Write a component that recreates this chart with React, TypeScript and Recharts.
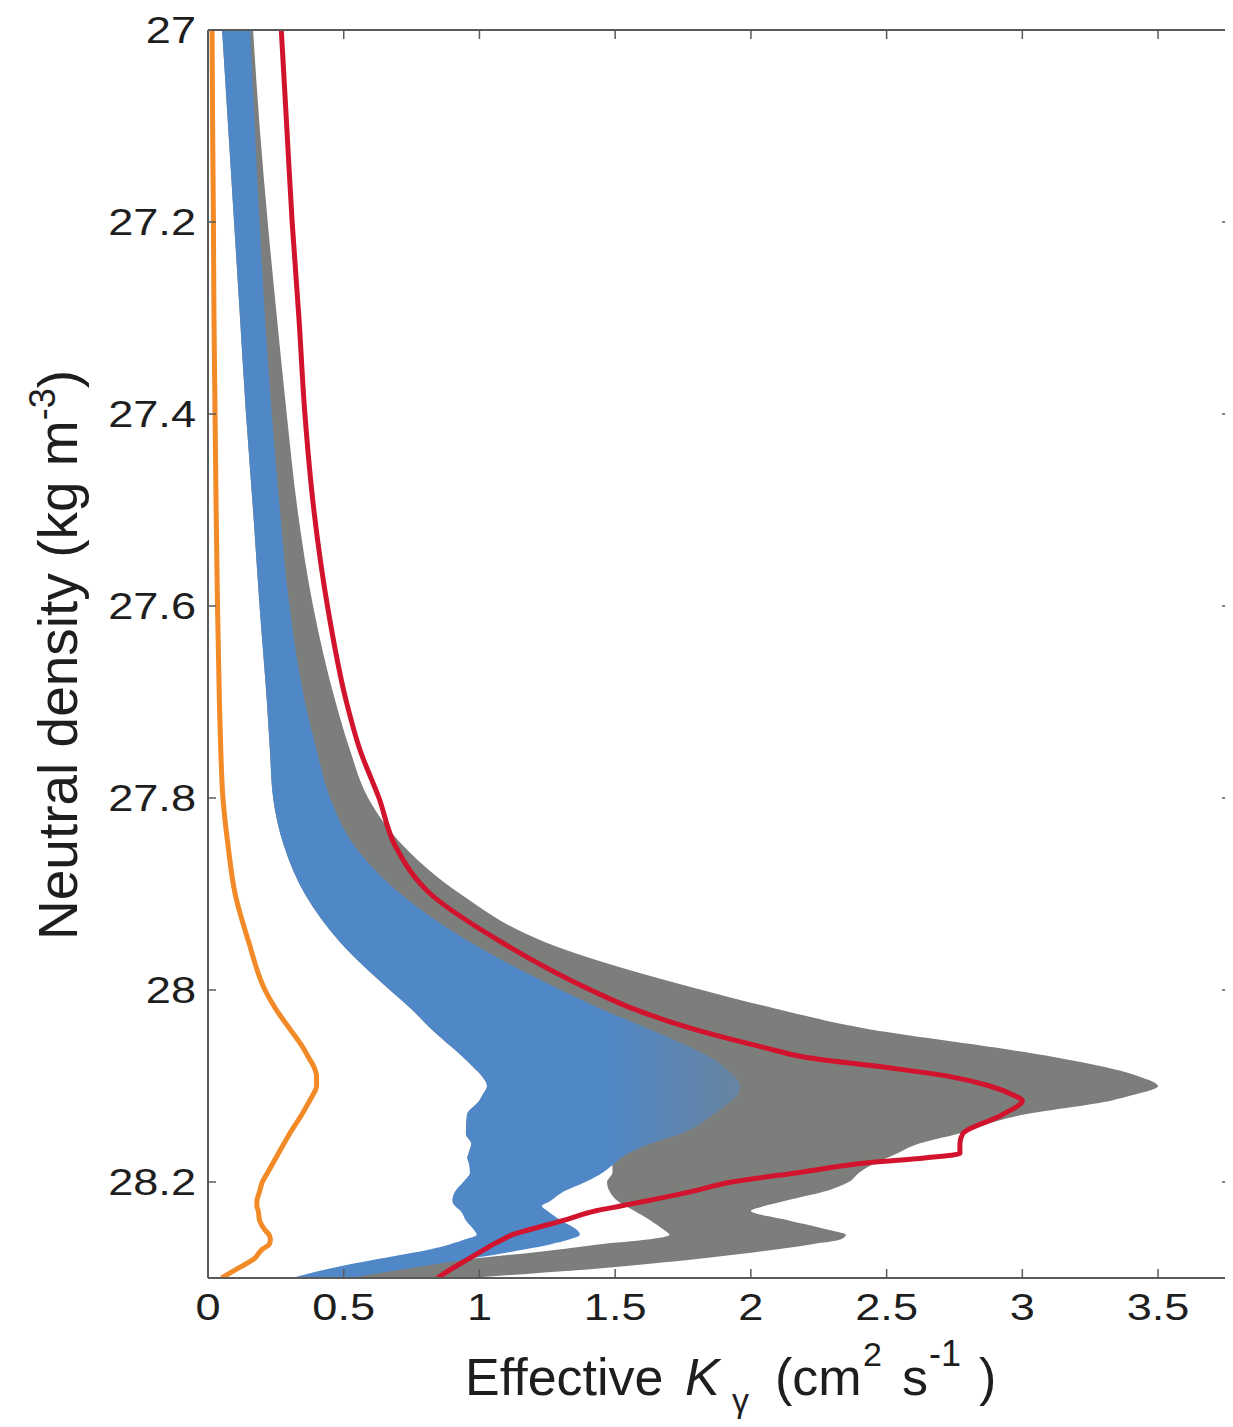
import React from 'react';
import { ComposedChart, Area, Line, XAxis, YAxis } from 'recharts';

// Neutral density levels (kg m^-3)
const density = [27.0, 27.1, 27.2, 27.3, 27.4, 27.5, 27.6, 27.7, 27.75, 27.8, 27.85, 27.9, 27.95, 28.0, 28.02, 28.04, 28.06, 28.07, 28.08, 28.09, 28.1, 28.11, 28.115, 28.13, 28.15, 28.16, 28.17, 28.175, 28.18, 28.19, 28.2, 28.21, 28.22, 28.225, 28.23, 28.24, 28.25, 28.255, 28.26, 28.265, 28.27, 28.28, 28.29, 28.3];

// Orange profile
const orangeK = [0.015, 0.017, 0.02, 0.022, 0.026, 0.03, 0.035, 0.042, 0.047, 0.055, 0.074, 0.1, 0.15, 0.21, 0.25, 0.3, 0.35, 0.37, 0.39, 0.4, 0.4, 0.385, 0.375, 0.345, 0.3, 0.28, 0.26, 0.25, 0.24, 0.22, 0.2, 0.19, 0.18, 0.18, 0.185, 0.19, 0.21, 0.225, 0.23, 0.225, 0.2, 0.17, 0.11, 0.05];

// Red profile
const redK = [0.27, 0.29, 0.31, 0.335, 0.357, 0.39, 0.44, 0.51, 0.56, 0.63, 0.69, 0.82, 1.08, 1.41, 1.57, 1.78, 2.05, 2.2, 2.48, 2.73, 2.88, 2.97, 3.0, 2.925, 2.78, 2.77, 2.77, 2.64, 2.43, 2.18, 1.93, 1.78, 1.61, 1.52, 1.43, 1.31, 1.18, 1.12, 1.085, 1.05, 1.02, 0.96, 0.9, 0.845];

// Blue band (lower / upper)
const blueLo = [0.052, 0.074, 0.096, 0.118, 0.14, 0.166, 0.19, 0.217, 0.228, 0.24, 0.28, 0.357, 0.486, 0.67, 0.75, 0.82, 0.9, 0.94, 0.976, 1.01, 1.028, 1.01, 1.0, 0.954, 0.95, 0.97, 0.96, 0.955, 0.96, 0.965, 0.94, 0.91, 0.9, 0.91, 0.93, 0.95, 0.98, 0.99, 0.945, 0.89, 0.82, 0.63, 0.45, 0.31];
const blueHi = [0.155, 0.172, 0.19, 0.21, 0.235, 0.265, 0.3, 0.357, 0.4, 0.45, 0.54, 0.71, 0.965, 1.3, 1.45, 1.62, 1.78, 1.85, 1.9, 1.94, 1.96, 1.95, 1.93, 1.86, 1.74, 1.63, 1.55, 1.52, 1.5, 1.455, 1.39, 1.31, 1.26, 1.23, 1.25, 1.3, 1.36, 1.37, 1.33, 1.26, 1.17, 0.965, 0.74, 0.52];

// Gray band (lower / upper)
const grayLo = [0.052, 0.074, 0.096, 0.118, 0.14, 0.166, 0.19, 0.217, 0.228, 0.24, 0.28, 0.357, 0.486, 0.67, 0.75, 0.82, 0.9, 0.94, 0.976, 1.01, 1.028, 1.01, 1.0, 0.954, 0.95, 0.97, 0.96, 0.955, 1.49, 1.49, 1.47, 1.48, 1.51, 1.54, 1.57, 1.63, 1.68, 1.7, 1.62, 1.44, 1.3, 0.97, 0.6, 0.31];
const grayHi = [0.166, 0.19, 0.22, 0.254, 0.29, 0.33, 0.387, 0.47, 0.523, 0.59, 0.72, 0.93, 1.24, 1.82, 2.1, 2.42, 2.9, 3.12, 3.3, 3.43, 3.5, 3.4, 3.33, 3.0, 2.76, 2.62, 2.54, 2.5, 2.46, 2.4, 2.36, 2.27, 2.12, 2.05, 2.0, 2.14, 2.29, 2.35, 2.33, 2.22, 2.1, 1.81, 1.44, 0.96];

const xTicks = [0, 0.5, 1, 1.5, 2, 2.5, 3, 3.5];
const xTickLabels = ['0', '0.5', '1', '1.5', '2', '2.5', '3', '3.5'];
const yTicks = [27, 27.2, 27.4, 27.6, 27.8, 28, 28.2];
const yTickLabels = ['27', '27.2', '27.4', '27.6', '27.8', '28', '28.2'];

const rows = density.map((d, i) => ({
  d,
  orange: orangeK[i],
  red: redK[i],
  blue: [blueLo[i], blueHi[i]],
  gray: [grayLo[i], grayHi[i]],
}));

const AXIS = '#5a5a5a';
const TEXT = '#1e1e1e';
const FONT = '"Liberation Sans", Arial, Helvetica, sans-serif';
const W = 1225;
const H = 1419;

const labelFor = (ticks: number[], labels: string[], v: number) => {
  const i = ticks.findIndex((t) => Math.abs(t - v) < 1e-6);
  return i >= 0 ? labels[i] : String(v);
};

const BottomTick = (props: any) => {
  const { x, y, payload } = props;
  return (
    <g>
      <line x1={x} y1={y} x2={x} y2={y - 9} stroke={AXIS} strokeWidth={1.5} />
      <text
        transform={`translate(${x},${y + 42}) scale(1.22,1)`}
        textAnchor="middle"
        fontFamily={FONT}
        fontSize={37}
        fill={TEXT}
      >
        {labelFor(xTicks, xTickLabels, payload.value)}
      </text>
    </g>
  );
};

const TopTick = (props: any) => {
  const { x, y } = props;
  return <line x1={x} y1={y} x2={x} y2={y + 9} stroke={AXIS} strokeWidth={1.5} />;
};

const LeftTick = (props: any) => {
  const { x, y, payload } = props;
  return (
    <g>
      <line x1={x} y1={y} x2={x + 8} y2={y} stroke={AXIS} strokeWidth={1.5} />
      <text
        transform={`translate(${x - 12},${y + 13}) scale(1.22,1)`}
        textAnchor="end"
        fontFamily={FONT}
        fontSize={37}
        fill={TEXT}
      >
        {labelFor(yTicks, yTickLabels, payload.value)}
      </text>
    </g>
  );
};

const RightTick = (props: any) => {
  const { x, y } = props;
  return <line x1={x} y1={y} x2={x - 8} y2={y} stroke={AXIS} strokeWidth={1.5} />;
};

export default function App() {
  return (
    <div style={{ position: 'relative', width: W, height: H, background: '#fff' }}>
      <ComposedChart
        width={W}
        height={H}
        data={rows}
        layout="vertical"
        margin={{ top: 21, right: 2, bottom: 89, left: 0 }}
      >
        <defs>
          <linearGradient id="blueFade" x1="0" y1="0" x2="1" y2="0">
            <stop offset="0" stopColor="#4f87c7" stopOpacity={1} />
            <stop offset="0.74" stopColor="#4f87c7" stopOpacity={1} />
            <stop offset="1" stopColor="#5a88bb" stopOpacity={0.6} />
          </linearGradient>
        </defs>
        <XAxis
          type="number"
          xAxisId={0}
          domain={[0, 3.765]}
          ticks={xTicks}
          interval={0}
          allowDataOverflow
          height={60}
          tickSize={0}
          tickMargin={0}
          tickLine={false}
          axisLine={{ stroke: AXIS, strokeWidth: 2 }}
          tick={<BottomTick />}
        />
        <XAxis
          type="number"
          xAxisId="top"
          orientation="top"
          domain={[0, 3.765]}
          ticks={xTicks}
          interval={0}
          allowDataOverflow
          height={1}
          tickSize={0}
          tickMargin={0}
          tickLine={false}
          axisLine={{ stroke: AXIS, strokeWidth: 2 }}
          tick={<TopTick />}
        />
        <YAxis
          type="number"
          yAxisId={0}
          dataKey="d"
          domain={[27, 28.3]}
          ticks={yTicks}
          interval={0}
          allowDataOverflow
          width={200}
          tickSize={0}
          tickMargin={0}
          tickLine={false}
          axisLine={{ stroke: AXIS, strokeWidth: 2 }}
          tick={<LeftTick />}
        />
        <YAxis
          type="number"
          yAxisId="right"
          orientation="right"
          dataKey="d"
          domain={[27, 28.3]}
          ticks={yTicks}
          interval={0}
          allowDataOverflow
          width={1}
          tickSize={0}
          tickMargin={0}
          tickLine={false}
          axisLine={false}
          tick={<RightTick />}
        />
        <Area
          dataKey="gray"
          type="monotone"
          fill="#7c7e7c"
          fillOpacity={1}
          stroke="none"
          isAnimationActive={false}
        />
        <Area
          dataKey="blue"
          type="monotone"
          fill="url(#blueFade)"
          fillOpacity={1}
          stroke="none"
          isAnimationActive={false}
        />
        <Line
          dataKey="orange"
          type="monotone"
          stroke="#f28a27"
          strokeWidth={5}
          dot={false}
          isAnimationActive={false}
        />
        <Line
          dataKey="red"
          type="monotone"
          stroke="#d2132e"
          strokeWidth={5}
          strokeLinejoin="round"
          dot={false}
          isAnimationActive={false}
        />
        {/* invisible companion so the top / right frame axes get a domain */}
        <Line
          dataKey="red"
          xAxisId="top"
          yAxisId="right"
          type="monotone"
          stroke="none"
          strokeOpacity={0}
          dot={false}
          activeDot={false}
          legendType="none"
          isAnimationActive={false}
        />
      </ComposedChart>
      <svg
        width={W}
        height={H}
        style={{ position: 'absolute', left: 0, top: 0, pointerEvents: 'none' }}
      >
        <g transform="translate(69,932) rotate(-90)">
          <text x={0} y={0} fontFamily={FONT} fontSize={55} fill={TEXT}>
            Neutral density (kg m
            <tspan fontSize={36} dy={-22}>-3</tspan>
            <tspan fontSize={55} dy={22}>)</tspan>
          </text>
        </g>
        <text fontFamily={FONT} fill={TEXT}>
          <tspan x={457} y={1387} fontSize={52}>Effective</tspan>
          <tspan x={677} y={1387} fontSize={52} fontStyle="italic">K</tspan>
          <tspan x={724} y={1404} fontSize={34}>γ</tspan>
          <tspan x={767} y={1387} fontSize={52}>(cm</tspan>
          <tspan x={855} y={1358} fontSize={34}>2</tspan>
          <tspan x={894} y={1387} fontSize={52}>s</tspan>
          <tspan x={921} y={1358} fontSize={36}>-1</tspan>
          <tspan x={971} y={1387} fontSize={52}>)</tspan>
        </text>
      </svg>
    </div>
  );
}
